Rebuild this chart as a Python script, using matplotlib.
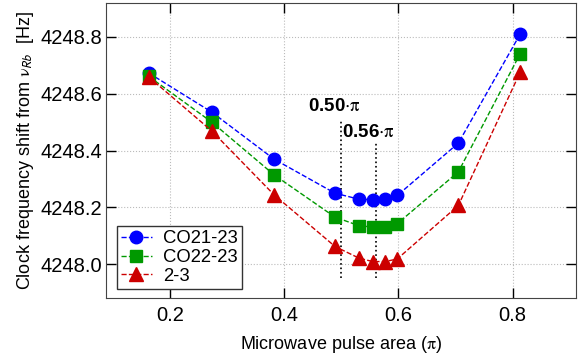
import matplotlib
matplotlib.use("Agg")
import matplotlib.pyplot as plt

plt.rcParams['font.family'] = ['Liberation Sans', 'DejaVu Sans']
plt.rcParams['mathtext.fontset'] = 'stix'

pulse_area = [0.163, 0.273, 0.382, 0.489, 0.531, 0.555, 0.577, 0.598, 0.705, 0.813]
co21_23 = [4248.672, 4248.535, 4248.370, 4248.250, 4248.229, 4248.227, 4248.230, 4248.242, 4248.426, 4248.808]
co22_23 = [4248.660, 4248.500, 4248.315, 4248.166, 4248.136, 4248.131, 4248.131, 4248.143, 4248.325, 4248.739]
pair_2_3 = [4248.658, 4248.469, 4248.245, 4248.063, 4248.022, 4248.010, 4248.010, 4248.019, 4248.207, 4248.674]

marks = [0.50, 0.56]
mark_tops = [4248.502, 4248.428]
mark_labels = [r'0.50$\cdot\mathrm{\pi}$', r'0.56$\cdot\mathrm{\pi}$']
label_y = [4248.555, 4248.463]

fig = plt.figure(figsize=(5.88, 3.6), dpi=100)
ax = fig.add_axes([106 / 588, 62 / 360, 470 / 588, 295 / 360])

ax.plot(pulse_area, co21_23, '--o', color='#0000ff', lw=1, ms=9, label='CO21-23', zorder=3)
ax.plot(pulse_area, co22_23, '--s', color='#009900', lw=1, ms=8.5, label='CO22-23', zorder=3)
ax.plot(pulse_area, pair_2_3, '--^', color='#cc0000', lw=1, ms=9.5, label='2-3', zorder=3)

for x, top, txt, ty in zip(marks, mark_tops, mark_labels, label_y):
    ax.vlines(x, 4247.952, top, colors='black', linestyles=':', lw=1.2, zorder=2)
    ax.text(x - 0.012, ty, txt, ha='center', va='center', fontsize=13.5, fontweight='bold')

ax.set_xlim(0.088, 0.911)
ax.set_ylim(4247.882, 4248.918)
ax.set_xticks([0.2, 0.4, 0.6, 0.8])
ax.set_yticks([4248.0, 4248.2, 4248.4, 4248.6, 4248.8])
ax.set_yticklabels(['4248.0', '4248.2', '4248.4', '4248.6', '4248.8'])
ax.grid(True, color='#bbbbbb', linestyle=':', lw=0.8)
ax.tick_params(direction='in', length=7, width=1, top=True, right=True, labelsize=14.5)
ax.tick_params(axis='y', pad=3)
ax.tick_params(axis='x', pad=6)
for s in ax.spines.values():
    s.set_color('#444444')

ax.set_xlabel(r'Microwave pulse area ($\mathrm{\pi}$)', fontsize=13, labelpad=6)
ax.set_ylabel(r'Clock frequency shift from $\mathrm{\nu}_{\mathsf{Rb}}$  [Hz]', fontsize=13, labelpad=3)

leg = ax.legend(loc='lower left', bbox_to_anchor=(0.023, 0.032), fontsize=13.3, frameon=True,
                fancybox=False, edgecolor='#333333', framealpha=1, handlelength=1.7,
                handletextpad=0.6, borderpad=0.2, labelspacing=0.1, borderaxespad=0)
leg.get_frame().set_linewidth(1)

fig.savefig('out.png', dpi=100)
